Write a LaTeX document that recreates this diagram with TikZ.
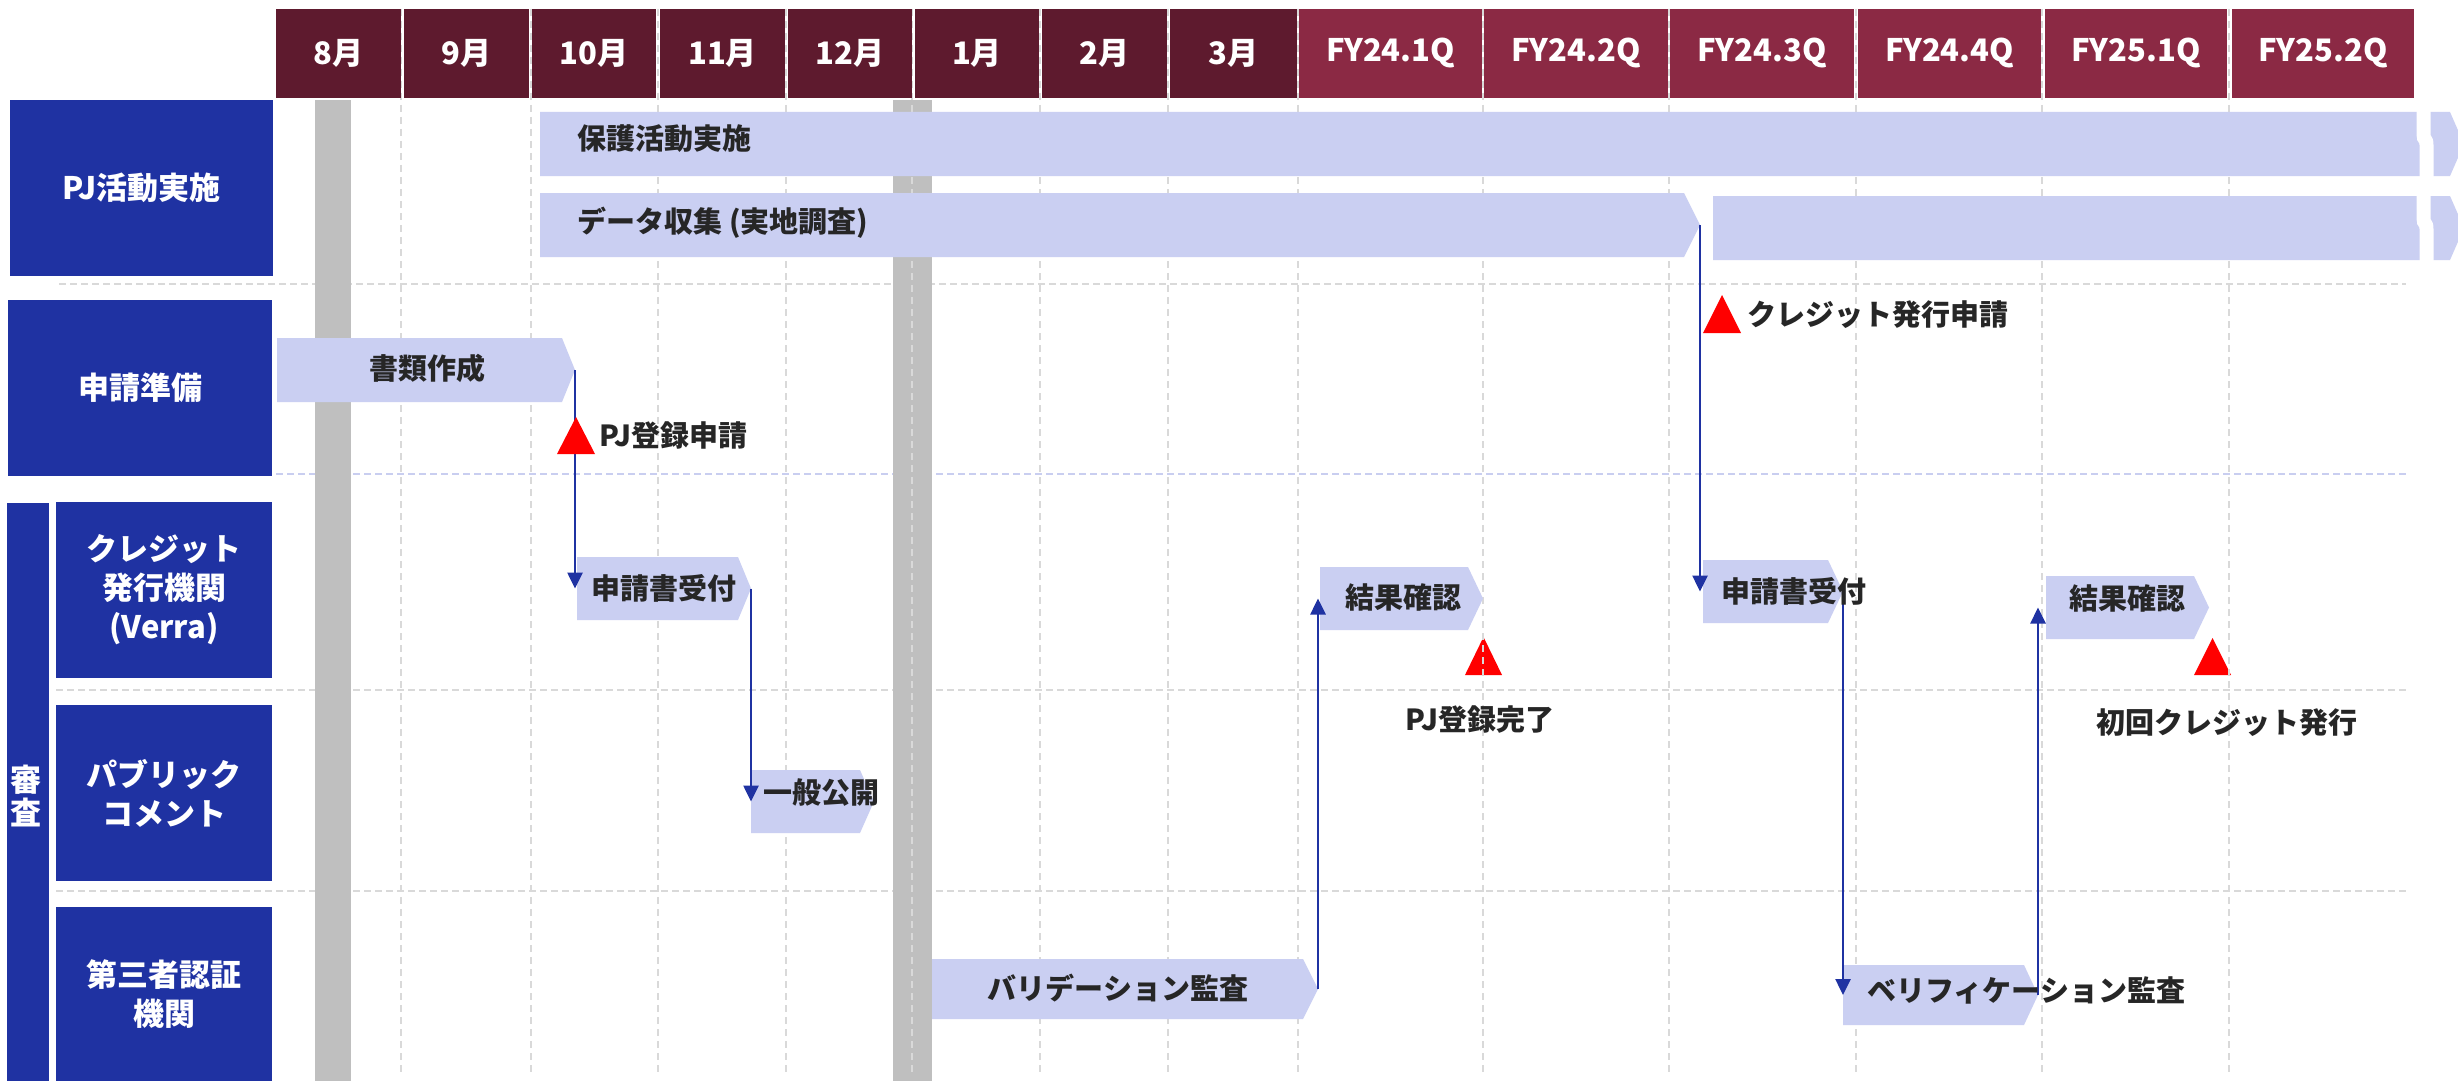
\documentclass[tikz,border=0pt]{standalone}
\usepackage{fontspec}
\setmainfont{Noto Sans CJK JP}
\usetikzlibrary{arrows.meta}
\definecolor{monthc}{RGB}{94,26,46}
\definecolor{qc}{RGB}{139,41,68}
\definecolor{labc}{RGB}{31,50,162}
\definecolor{barc}{RGB}{202,207,242}
\definecolor{grayb}{RGB}{191,191,191}
\definecolor{gridc}{RGB}{217,217,217}
\definecolor{gridb}{RGB}{201,206,240}
\definecolor{txtc}{RGB}{38,38,38}
\definecolor{arrc}{RGB}{31,50,162}
% name, x1, y1, x2 (tip), y2, tip depth
\newcommand\tbar[6]{%
  \fill[barc] (#2,#3) -- ({#4-#6},#3) -- (#4,{(#3+#5)/2}) -- ({#4-#6},#5) -- (#2,#5) -- cycle;
  \coordinate (#1-w) at (#2,{(#3+#5)/2});
  \coordinate (#1-e) at (#4,{(#3+#5)/2});
}
% name, x1, x2, colour, text
\newcommand\hcell[5]{%
  \fill[#4] (#2,9) rectangle (#3,98);
  \node[htext] (#1) at ({(#2+#3)/2},53.5) {#5};
}
% name, x1, y1, x2, y2, text
\newcommand\lbox[6]{%
  \fill[labc] (#2,#3) rectangle (#4,#5);
  \node[ltext] (#1) at ({(#2+#4)/2},{(#3+#5)/2}) {#6};
}
\newcommand\brk[2]{% top, bottom of a bar
  \draw[white,line width=7pt] (2423.5,{#1-2}) -- (2423.5,{#1+0.35*(#2-#1)})
    .. controls (2423.5,{#1+0.45*(#2-#1)}) and (2426.5,{#1+0.4*(#2-#1)}) .. (2426.5,{#1+0.52*(#2-#1)})
    -- (2426.5,{#2+2});
}
\begin{document}
\begin{tikzpicture}[x=0.5pt,y=-0.5pt,
  htext/.style={text=white,font=\bfseries\fontsize{15.5}{18}\selectfont,inner sep=0pt},
  ltext/.style={text=white,font=\bfseries\fontsize{15.5}{19.5}\selectfont,align=center,inner sep=0pt},
  btext/.style={text=txtc,font=\bfseries\fontsize{14.5}{17}\selectfont,inner sep=0pt},
  vgrid/.style={gridc,line width=1pt,dash pattern=on 3.5pt off 2.5pt},
  hgrid/.style={gridc,line width=1pt,dash pattern=on 3.5pt off 2pt},
  conn/.style={arrc,line width=1.3pt,-{Triangle[length=8pt,width=7.5pt]}}]
\useasboundingbox (0,0) rectangle (2458,1081);
\fill[white] (0,0) rectangle (2458,1081);
% horizontal grid
\draw[hgrid] (59,284) -- (2406,284);
\draw[hgrid,draw=gridb] (276,474) -- (2406,474);
\draw[hgrid] (56,690) -- (2406,690);
\draw[hgrid] (56,891) -- (2406,891);
% grey bars
\fill[grayb] (315,100) rectangle (351,1081);
\fill[grayb] (893,100) rectangle (932,1081);
% milestones under grid
\fill[red] (1465,675) -- (1483.5,637) -- (1502,675) -- cycle;
\fill[red] (2194,675) -- (2212.5,638) -- (2231,675) -- cycle;
% vertical grid
\foreach \x in {401,531,658,786,912,1040,1168,1298,1483,1669,1856,2042,2229}
  \draw[vgrid] (\x,9) -- (\x,1072);
% header
\hcell{h1}{276}{401}{monthc}{8月}
\hcell{h2}{404}{529}{monthc}{9月}
\hcell{h3}{532}{656}{monthc}{10月}
\hcell{h4}{660}{785}{monthc}{11月}
\hcell{h5}{788}{912}{monthc}{12月}
\hcell{h6}{915}{1039}{monthc}{1月}
\hcell{h7}{1042}{1167}{monthc}{2月}
\hcell{h8}{1170}{1297}{monthc}{3月}
\hcell{h9}{1299}{1482}{qc}{FY24.1Q}
\hcell{h10}{1484}{1668}{qc}{FY24.2Q}
\hcell{h11}{1670}{1854}{qc}{FY24.3Q}
\hcell{h12}{1858}{2041}{qc}{FY24.4Q}
\hcell{h13}{2045}{2227}{qc}{FY25.1Q}
\hcell{h14}{2232}{2414}{qc}{FY25.2Q}
% left labels
\lbox{l1}{10}{100}{273}{276}{PJ活動実施}
\lbox{l2}{8}{300}{272}{476}{申請準備}
\fill[labc] (7,503) rectangle (49,1081);
\node[ltext,font=\bfseries\fontsize{15.5}{16.5}\selectfont] (l3) at (26,796) {審\\査};
\lbox{l4}{56}{502}{272}{678}{クレジット\\発行機関\\(Verra)}
\lbox{l5}{56}{705}{272}{881}{パブリック\\コメント}
\lbox{l6}{56}{907}{272}{1081}{第三者認証\\機関}
% task bars
\tbar{hogo}{540}{112}{2464}{176}{14}
\tbar{data1}{540}{193}{1700}{257}{16}
\tbar{data2}{1713}{196}{2464}{260}{14}
\brk{112}{176}
\brk{196}{260}
\tbar{shorui}{277}{338}{575}{402}{13}
\tbar{uke1}{577}{557}{751}{620}{13}
\tbar{ippan}{751}{770}{874}{833}{14}
\tbar{vali}{932}{959}{1318}{1019}{15}
\tbar{kekka1}{1320}{567}{1483}{630}{15}
\tbar{uke2}{1703}{560}{1843}{623}{15}
\tbar{kekka2}{2046}{576}{2209}{639}{15}
\tbar{veri}{1843}{965}{2038}{1025}{14}
% connectors
\draw[conn] (shorui-e) -- (shorui-e |- uke1-w);
\draw[conn] (uke1-e) -- (uke1-e |- ippan-w);
\draw[conn] (data1-e) -- (data1-e |- uke2-w);
\draw[conn] (uke2-e) -- (uke2-e |- veri-w);
\draw[conn] (vali-e) -- (vali-e |- kekka1-w);
\draw[conn] (veri-e) -- (veri-e |- kekka2-w);
% milestones over lines
\fill[red] (557,454) -- (576,417) -- (595,454) -- cycle;
\fill[red] (1703,333) -- (1722,295) -- (1741,333) -- cycle;
% texts
\node[btext,anchor=west] (t1) at (577,139) {保護活動実施};
\node[btext,anchor=west] (t2) at (577,223) {データ収集 (実地調査)};
\node[btext] (t3) at (427,368) {書類作成};
\node[btext] (t4) at (664,588) {申請書受付};
\node[btext,anchor=west] (t5) at (763,793) {一般公開};
\node[btext] (t6) at (1118,988) {バリデーション監査};
\node[btext] (t7) at (1403,597) {結果確認};
\node[btext,anchor=west] (t8) at (1721,591) {申請書受付};
\node[btext] (t9) at (2127,598) {結果確認};
\node[btext,anchor=west] (t10) at (1867,990) {ベリフィケーション監査};
\node[btext,anchor=west] (m1) at (599,435) {PJ登録申請};
\node[btext,anchor=west] (m2) at (1747,315) {クレジット発行申請};
\node[btext] (m3) at (1480,720) {PJ登録完了};
\node[btext] (m4) at (2227,723) {初回クレジット発行};
\end{tikzpicture}
\end{document}
